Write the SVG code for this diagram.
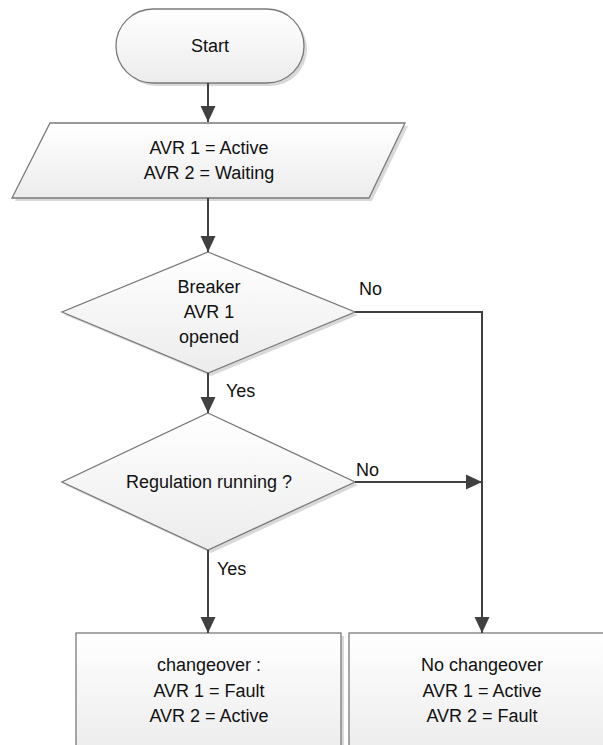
<svg xmlns="http://www.w3.org/2000/svg" width="603" height="745" viewBox="0 0 603 745">
<style>
.shape{fill:url(#g);stroke:#7a7a7a;stroke-width:1.3}
.shadow{fill:#d9d9d9;stroke:none}
.t{font-family:"Liberation Sans",Arial,sans-serif;font-size:18px;fill:#111111;text-anchor:middle}
.lbl{font-family:"Liberation Sans",Arial,sans-serif;font-size:18px;fill:#111111}
.c{fill:none;stroke:#404040;stroke-width:2;marker-end:url(#ah)}
</style>
<defs>
<linearGradient id="g" x1="0" y1="0" x2="0" y2="1">
<stop offset="0" stop-color="#ffffff"/>
<stop offset="1" stop-color="#ececec"/>
</linearGradient>
<marker id="ah" markerUnits="userSpaceOnUse" markerWidth="18" markerHeight="18" viewBox="0 0 18 18" refX="16" refY="9" orient="auto">
<path d="M0,1.5 L16,9 L0,16.5 Z" fill="#404040"/>
</marker>
</defs>
<rect x="0" y="0" width="603" height="745" fill="#ffffff"/>
<g id="start">
<rect class="shadow" x="119" y="12" width="188" height="74" rx="37"/>
<rect class="shape" x="116" y="9" width="188" height="74" rx="37"/>
<text class="t" x="210" y="52">Start</text>
</g>
<g id="init">
<polygon class="shadow" points="53,126 408,126 372,201 15,201"/>
<polygon class="shape" points="50,123 405,123 369,198 12,198"/>
<text class="t" x="209" y="154">AVR 1 = Active</text>
<text class="t" x="209" y="179">AVR 2 = Waiting</text>
</g>
<g id="breaker">
<polygon class="shadow" points="211,255 358,315 211,376 65,315"/>
<polygon class="shape" points="208,252 355,312 208,373 62,312"/>
<text class="t" x="209" y="293">Breaker</text>
<text class="t" x="209" y="318">AVR 1</text>
<text class="t" x="209" y="343">opened</text>
</g>
<g id="regulation">
<polygon class="shadow" points="211,416 358,485 211,553 65,485"/>
<polygon class="shape" points="208,413 355,482 208,550 62,482"/>
<text class="t" x="209" y="488">Regulation running ?</text>
</g>
<g id="changeover">
<rect class="shadow" x="79" y="636" width="265" height="120"/>
<rect class="shape" x="76" y="633" width="265" height="120"/>
<text class="t" x="209" y="671">changeover :</text>
<text class="t" x="209" y="697">AVR 1 = Fault</text>
<text class="t" x="209" y="722">AVR 2 = Active</text>
</g>
<g id="nochangeover">
<rect class="shadow" x="352" y="636" width="265" height="120"/>
<rect class="shape" x="349" y="633" width="265" height="120"/>
<text class="t" x="482" y="671">No changeover</text>
<text class="t" x="482" y="697">AVR 1 = Active</text>
<text class="t" x="482" y="722">AVR 2 = Fault</text>
</g>
<g id="connectors">
<line class="c" x1="208" y1="83" x2="208" y2="122"/>
<line class="c" x1="208" y1="198" x2="208" y2="252"/>
<line class="c" x1="208" y1="373" x2="208" y2="413"/>
<line class="c" x1="208" y1="550" x2="208" y2="633"/>
<polyline class="c" points="355,312 482,312 482,633"/>
<line class="c" x1="355" y1="482" x2="482" y2="482"/>
<text class="lbl" x="359" y="295">No</text>
<text class="lbl" x="226" y="397">Yes</text>
<text class="lbl" x="356" y="476">No</text>
<text class="lbl" x="217" y="575">Yes</text>
</g>
</svg>
